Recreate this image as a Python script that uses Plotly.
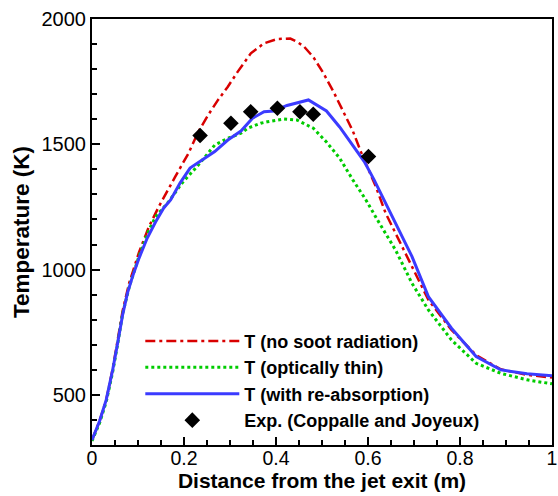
import plotly.graph_objects as go

# ---- data ----
x_nosoot = [0.0, 0.0165, 0.0309, 0.045, 0.0558, 0.0665, 0.0809, 0.1023, 0.1237, 0.1452,
            0.181, 0.2097, 0.2311, 0.2526, 0.274, 0.2953, 0.3169, 0.3453, 0.374, 0.4026,
            0.4311, 0.4454, 0.4598, 0.4812, 0.5027, 0.5241, 0.5456, 0.567, 0.5848, 0.5998,
            0.617, 0.6384, 0.6599, 0.6957, 0.7313, 0.7815, 0.8351, 0.8887, 0.9457, 1.0]
t_nosoot = [320, 396, 480, 604, 719, 835, 947, 1070, 1171, 1251,
            1371, 1464, 1550, 1617, 1677, 1730, 1790, 1863, 1903, 1920,
            1922, 1909, 1892, 1848, 1785, 1713, 1633, 1553, 1469, 1405,
            1331, 1225, 1145, 1012, 879, 759, 659, 602, 580, 569]

x_thin = [0.0, 0.0165, 0.0309, 0.045, 0.0558, 0.0665, 0.0809, 0.1023, 0.1237, 0.1381,
          0.1666, 0.1952, 0.2311, 0.2668, 0.2953, 0.3238, 0.3382, 0.3667, 0.3811, 0.4169,
          0.4454, 0.4812, 0.5097, 0.5383, 0.567, 0.5955, 0.6206, 0.6599, 0.6957, 0.7313,
          0.7815, 0.8351, 0.8887, 0.9457, 1.0]
t_thin = [316, 388, 472, 592, 703, 823, 931, 1054, 1158, 1210,
          1271, 1344, 1417, 1497, 1524, 1544, 1564, 1584, 1590, 1601,
          1597, 1564, 1509, 1445, 1358, 1278, 1198, 1078, 945, 839,
          719, 626, 586, 560, 544]

x_reabs = [0.0, 0.0165, 0.0309, 0.045, 0.0558, 0.0665, 0.0772, 0.0879, 0.1023, 0.1201,
           0.1381, 0.1559, 0.1709, 0.1917, 0.2132, 0.2381, 0.2668, 0.2953, 0.3238, 0.3489,
           0.374, 0.3955, 0.4239, 0.4705, 0.5097, 0.5383, 0.567, 0.5919, 0.6133, 0.6348,
           0.6599, 0.6957, 0.7313, 0.7815, 0.8351, 0.8887, 0.9457, 1.0]
t_reabs = [320, 396, 480, 600, 707, 819, 907, 971, 1046, 1126,
           1190, 1246, 1278, 1346, 1405, 1437, 1471, 1517, 1553, 1604,
           1630, 1633, 1655, 1677, 1633, 1569, 1497, 1431, 1358, 1278,
           1185, 1052, 892, 766, 653, 600, 584, 576]

x_exp = [0.235, 0.302, 0.345, 0.403, 0.452, 0.481, 0.601]
t_exp = [1535, 1584, 1630, 1644, 1630, 1620, 1451]

x_ticks = [0, 0.2, 0.4, 0.6, 0.8, 1]
x_ticklabels = ["0", "0.2", "0.4", "0.6", "0.8", "1"]
y_ticks = [500, 1000, 1500, 2000]

FONT = "Arial, Liberation Sans, sans-serif"

fig = go.Figure()
fig.add_trace(go.Scatter(x=x_nosoot, y=t_nosoot, mode="lines", name="T (no soot radiation)",
                         line=dict(color="#d90000", width=2.5, dash="10px,4px,3px,4px")))
fig.add_trace(go.Scatter(x=x_thin, y=t_thin, mode="lines", name="T (optically thin)",
                         line=dict(color="#00cc00", width=3, dash="3px,3px")))
fig.add_trace(go.Scatter(x=x_reabs, y=t_reabs, mode="lines", name="T (with re-absorption)",
                         line=dict(color="#3b3bff", width=3)))
fig.add_trace(go.Scatter(x=x_exp, y=t_exp, mode="markers", name="Exp. (Coppalle and Joyeux)",
                         marker=dict(symbol="diamond", size=12, color="black")))

fig.update_layout(
    width=558, height=496,
    margin=dict(l=92, r=1, t=19, b=51),
    paper_bgcolor="white", plot_bgcolor="white",
    font=dict(family=FONT, size=20, color="black"),
    legend=dict(x=0.105, y=0.287, xanchor="left", yanchor="top",
                bgcolor="rgba(0,0,0,0)", itemwidth=94,
                font=dict(family=FONT, size=18, color="black", weight="bold"),
                tracegroupgap=0),
    showlegend=True,
)
fig.update_xaxes(
    range=[0, 1], tickvals=x_ticks, ticktext=x_ticklabels,
    showgrid=False, zeroline=False, ticklabeloverflow="allow",
    showline=True, linecolor="black", linewidth=2, mirror=True,
    ticks="inside", ticklen=8, tickwidth=1.5, tickcolor="black",
    tickfont=dict(size=19.5), ticklabelstandoff=-5,
    minor=dict(dtick=0.05, ticks="inside", ticklen=5, tickwidth=1.5, tickcolor="black"),
    title=dict(text="<b>Distance from the jet exit (m)</b>", font=dict(size=21), standoff=0),
)
fig.update_yaxes(
    range=[300, 2000], tickvals=y_ticks,
    showgrid=False, zeroline=False,
    showline=True, linecolor="black", linewidth=2, mirror=True,
    ticks="inside", ticklen=8, tickwidth=1.5, tickcolor="black",
    tickfont=dict(size=20),
    minor=dict(dtick=100, ticks="inside", ticklen=5, tickwidth=1.5, tickcolor="black"),
    title=dict(text="<b>Temperature (K)</b>", font=dict(size=22.5), standoff=6),
)

fig.write_html("out.html")
